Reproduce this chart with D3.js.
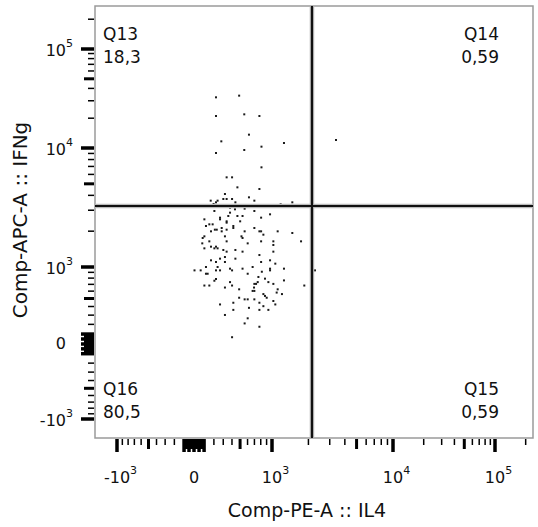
<!DOCTYPE html>
<html><head><meta charset="utf-8">
<script src="https://cdn.jsdelivr.net/npm/d3@7/dist/d3.min.js"></script>
<style>body{margin:0;background:#fff}svg{display:block}text{font-family:"DejaVu Sans",Verdana,sans-serif;fill:#111}</style>
</head><body><svg id="c" width="538" height="527"></svg>
<script>
// ---- data ----
const il4 = [222,488,222,555,778,620,279,1256,222,555,812,812,338,401,466,778,319,620,699,167,239,301,338,401,441,197,222,1179,1472,
205,377,436,560,699,806,963,377,357,466,532,103,265,265,338,416,501,338,119,153,187,230,210,283,283,170,338,416,699,778,806,844,1114,1472,560,
319,103,86,518,532,153,338,602,806,1026,1026,1738,82,170,222,103,205,239,301,338,441,532,1026,778,265,319,441,806,963,1065,170,222,319,
119,239,377,401,532,673,818,963,963,1256,5,66,119,136,222,265,602,2265,762,872,932,1026,1256,222,205,377,401,103,153,319,699,725,751,694,
673,699,488,1114,1849,1093,1209,844,872,902,488,560,602,699,1026,416,778,1065,265,844,620,416,778,932,319,602,560,778,401,3380];
const ifng = [32500,33790,21049,21880,21049,13636,11675,11232,9079,9621,10316,6879,5669,5669,4671,4523,4106,3850,3610,3610,3610,3728,3728,3728,3495,3385,3495,3363,3495,
2956,3152,3053,3092,2956,2598,2771,2862,2683,2683,2683,2515,2598,2515,2420,2211,2420,2358,2211,2283,2283,2059,2059,2127,1994,1994,2059,2127,2127,1994,1994,1869,1994,1931,1994,
1810,1810,1753,1810,1753,1643,1643,1580,1643,1643,1531,1643,1580,1482,1482,1435,1435,1435,1390,1346,1390,1346,1346,1261,1175,1213,1175,1102,1138,1067,1138,1102,1102,
1000,1000,968,936,968,1000,911,968,936,968,936,936,875,875,936,936,875,936,819,791,735,707,762,785,757,735,682,682,682,652,707,707,735,652,
603,603,626,626,682,580,559,559,534,510,510,489,489,489,468,446,446,425,425,404,384,360,360,360,302,265,210,175,68,12045];
const gateX = 2140;   // IL4 threshold
const gateY = 3255;   // IFNg threshold
const quadNames = ["Q13","Q14","Q15","Q16"];
const quadPercents = ["18,3","0,59","0,59","80,5"];
const xTickValues = [-1000,0,1000,10000,100000];
const xTickBase = ["-10","0","10","10","10"];
const xTickExp = ["3","","3","4","5"];
const yTickValues = [-1000,0,1000,10000,100000];
const yTickBase = ["-10","0","10","10","10"];
const yTickExp = ["3","","3","4","5"];
const xTitle = "Comp-PE-A :: IL4";
const yTitle = "Comp-APC-A :: IFNg";

// ---- biexponential-like transform ----
const LIN = 1000, COF = 600;
function T(v){
  const a = Math.abs(v);
  if (a <= LIN) return Math.asinh(v/COF)/Math.asinh(LIN/COF);
  return Math.sign(v)*(1+Math.log10(a/LIN));
}
const L = 95, R = 533, TOP = 6, BOT = 438;
const xMin=-1400, xMax=236000, yMin=-1400, yMax=272000;
const xs = d3.scaleLinear().domain([T(xMin),-1,0,1,2,3,T(xMax)]).range([L,117,194,272,393,495,R]);
const ys = d3.scaleLinear().domain([T(yMin),-1,0,1,2,3,T(yMax)]).range([BOT,419,344,267,148,49,TOP]);
const X = v => xs(T(v)), Y = v => ys(T(v));

const svg = d3.select("#c");

// ticks
function tickList(lo, hi){
  const out = [];
  const add = (v,kind)=>{ if (v>=lo && v<=hi) out.push({v,kind}); };
  for (let v=-100; v<=100; v+=10){ add(v, (v%50===0)?"major":"block"); }
  for (let m=2; m<=9; m++){ add(m*100,m===5?"mid":"minor"); add(-m*100,m===5?"mid":"minor"); }
  [-1000,1000,10000,100000].forEach(v=>add(v,"major"));
  [1000,10000,100000].forEach(d=>{ for(let m=2;m<=9;m++) add(m*d, m===5?"mid":"minor"); });
  return out;
}
const tw = {major:3.5, mid:3, minor:1.5, block:2.2};
const tl = {major:13, mid:10, minor:6, block:10};

const gx = svg.append("g");
tickList(xMin,xMax).forEach(t=>{
  const px = X(t.v);
  gx.append("line").attr("x1",px).attr("x2",px).attr("y1",BOT+1).attr("y2",BOT+1+tl[t.kind])
    .attr("stroke","#000").attr("stroke-width",tw[t.kind]);
});
const gy = svg.append("g");
tickList(yMin,yMax).forEach(t=>{
  const py = Y(t.v);
  gy.append("line").attr("y1",py).attr("y2",py).attr("x1",L-1).attr("x2",L-1-tl[t.kind])
    .attr("stroke","#000").attr("stroke-width",tw[t.kind]);
});

// tick labels
const FS = 16, ES = 11;
xTickValues.forEach((v,i)=>{
  const px = X(v), base = 483;
  const t = svg.append("text").attr("x",px).attr("y",base).attr("text-anchor","middle")
    .attr("font-size",FS).text(xTickBase[i]);
  if (xTickExp[i]) {
    const w = t.node().getComputedTextLength();
    svg.append("text").attr("x",px+w/2).attr("y",base-9).attr("font-size",ES).text(xTickExp[i]);
  }
});
yTickValues.forEach((v,i)=>{
  const py = Y(v), rx = 66;
  if (yTickExp[i]) {
    svg.append("text").attr("x",rx).attr("y",py+7).attr("text-anchor","end").attr("font-size",FS).text(yTickBase[i]);
    svg.append("text").attr("x",rx).attr("y",py-2).attr("font-size",ES).text(yTickExp[i]);
  } else {
    svg.append("text").attr("x",rx).attr("y",py+5).attr("text-anchor","end").attr("font-size",FS).text(yTickBase[i]);
  }
});

// frame
svg.append("rect").attr("x",L).attr("y",TOP).attr("width",R-L).attr("height",BOT-TOP)
  .attr("fill","#fff").attr("stroke","#9a9a9a").attr("stroke-width",1.5).lower();

// dots
svg.append("g").selectAll("rect").data(il4.map((v,i)=>[v,ifng[i]])).join("rect")
  .attr("x",d=>X(d[0])-1).attr("y",d=>Y(d[1])-1).attr("width",2).attr("height",2).attr("fill","#1a1a1a");

// gates
const gg = svg.append("g");
[["#bbb",4.5],["#111",2.2]].forEach(([c,w])=>{
  gg.append("line").attr("x1",X(gateX)).attr("x2",X(gateX)).attr("y1",TOP).attr("y2",BOT).attr("stroke",c).attr("stroke-width",w);
  gg.append("line").attr("x1",L).attr("x2",R).attr("y1",Y(gateY)).attr("y2",Y(gateY)).attr("stroke",c).attr("stroke-width",w);
});

// quadrant labels
const QF = 17;
const qpos = [{x:L+8,a:"start",top:true},{x:R-34,a:"end",top:true},{x:R-34,a:"end",top:false},{x:L+8,a:"start",top:false}];
quadNames.forEach((n,i)=>{
  const p = qpos[i];
  const y1 = p.top ? 40 : 395;
  svg.append("text").attr("x",p.x).attr("y",y1).attr("text-anchor",p.a).attr("font-size",QF).text(n);
  svg.append("text").attr("x",p.x).attr("y",y1+23).attr("text-anchor",p.a).attr("font-size",QF).text(quadPercents[i]);
});

// axis titles
svg.append("text").attr("x",307).attr("y",517).attr("text-anchor","middle").attr("font-size",19).text(xTitle);
svg.append("text").attr("transform",`translate(27,220) rotate(-90)`).attr("text-anchor","middle").attr("font-size",20).text(yTitle);
</script></body></html>
